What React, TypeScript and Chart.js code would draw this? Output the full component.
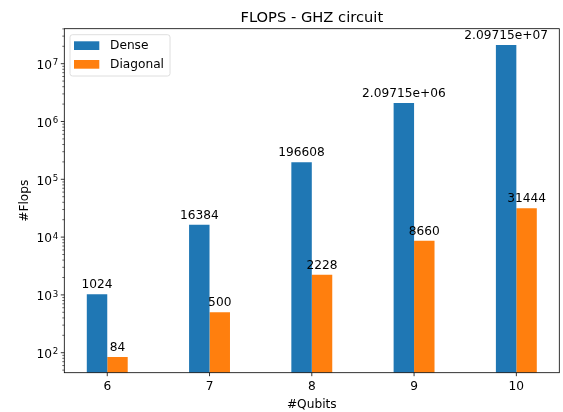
import React, { useEffect, useRef } from "react";
import { Chart, registerables } from "chart.js";

Chart.register(...registerables);

const qubits = [6, 7, 8, 9, 10];
const denseFlops = [1024, 16384, 196608, 2097152, 20971520];
const diagonalFlops = [84, 500, 2228, 8660, 31444];
const seriesNames = ["Dense", "Diagonal"];
const seriesColors = ["#1f77b4", "#ff7f0e"];
const titleText = "FLOPS - GHZ circuit";
const xTitle = "#Qubits";
const yTitle = "#Flops";

const FONT = "DejaVu Sans";

function fmtG(v: number): string {
  const e = Math.floor(Math.log10(Math.abs(v)));
  if (e >= 6 || e < -4) {
    const parts = v.toExponential(5).split("e");
    const m = parts[0].replace(/\.?0+$/, "");
    const n = parseInt(parts[1], 10);
    return m + "e" + (n < 0 ? "-" : "+") + String(Math.abs(n)).padStart(2, "0");
  }
  return String(parseFloat(v.toPrecision(6)));
}

function isPow10(v: number) {
  const l = Math.log10(v);
  return Math.abs(l - Math.round(l)) < 1e-9;
}

const decorPlugin = {
  id: "decor",
  beforeDraw(chart: any) {
    const ctx = chart.ctx;
    ctx.save();
    ctx.fillStyle = "#ffffff";
    ctx.fillRect(0, 0, chart.width, chart.height);
    ctx.restore();
  },
  afterDraw(chart: any) {
    const ctx = chart.ctx;
    const a = chart.chartArea;
    const xs = chart.scales.x;
    const ys = chart.scales.y;
    ctx.save();
    // bar labels
    ctx.fillStyle = "#000";
    ctx.font = `12.2px '${FONT}'`;
    ctx.textAlign = "center";
    ctx.textBaseline = "alphabetic";
    chart.data.datasets.forEach((ds: any, di: number) => {
      const meta = chart.getDatasetMeta(di);
      meta.data.forEach((el: any, i: number) => {
        ctx.fillText(fmtG(ds.data[i].y), el.x, el.y - 6);
      });
    });
    // spines
    ctx.strokeStyle = "#000";
    ctx.lineWidth = 0.8;
    ctx.strokeRect(a.left, a.top, a.right - a.left, a.bottom - a.top);
    // y ticks and labels (10 with superscript exponent)
    ys.ticks.forEach((t: any) => {
      const p = ys.getPixelForValue(t.value);
      const major = isPow10(t.value);
      ctx.lineWidth = major ? 0.8 : 0.6;
      ctx.beginPath();
      ctx.moveTo(a.left, p);
      ctx.lineTo(a.left - (major ? 3.5 : 2), p);
      ctx.stroke();
      if (major) {
        const e = String(Math.round(Math.log10(t.value)));
        const right = a.left - 6.2;
        ctx.textAlign = "right";
        ctx.textBaseline = "alphabetic";
        ctx.font = `8.6px '${FONT}'`;
        const ew = ctx.measureText(e).width;
        ctx.fillText(e, right, p + 1.6);
        ctx.font = `12.2px '${FONT}'`;
        ctx.fillText("10", right - ew - 0.6, p + 5.3);
      }
    });
    // x ticks
    ctx.lineWidth = 0.8;
    xs.ticks.forEach((t: any) => {
      const p = xs.getPixelForValue(t.value);
      ctx.beginPath();
      ctx.moveTo(p, a.bottom);
      ctx.lineTo(p, a.bottom + 3.5);
      ctx.stroke();
    });
    // title
    const cx = (a.left + a.right) / 2;
    ctx.font = `14.7px '${FONT}'`;
    ctx.textAlign = "center";
    ctx.textBaseline = "alphabetic";
    ctx.fillText(titleText, cx, 21.7);
    // axis titles
    ctx.font = `12.2px '${FONT}'`;
    ctx.fillText(xTitle, cx, 408);
    ctx.save();
    ctx.translate(27.9, (a.top + a.bottom) / 2);
    ctx.rotate(-Math.PI / 2);
    ctx.fillText(yTitle, 0, 0);
    ctx.restore();
    // legend
    const lx = a.left + 5.7;
    const ly = a.top + 6;
    ctx.beginPath();
    (ctx as any).roundRect(lx, ly, 100, 41.3, 2.5);
    ctx.fillStyle = "rgba(255,255,255,0.8)";
    ctx.fill();
    ctx.strokeStyle = "#d6d6d6";
    ctx.lineWidth = 0.8;
    ctx.stroke();
    ctx.textAlign = "left";
    ctx.textBaseline = "middle";
    seriesNames.forEach((name, i) => {
      const sy = ly + 6.6 + i * 18.7;
      ctx.fillStyle = seriesColors[i];
      ctx.fillRect(lx + 4, sy, 25.3, 8.7);
      ctx.fillStyle = "#000";
      ctx.fillText(name, lx + 40, sy + 4.6);
    });
    ctx.restore();
  },
};

export default function App() {
  const ref = useRef<HTMLCanvasElement | null>(null);
  useEffect(() => {
    if (!ref.current) return;
    const yTickValues: number[] = [];
    for (let e = 1; e <= 7; e++) {
      for (let s = 1; s <= 9; s++) {
        const v = s * Math.pow(10, e);
        if (v >= 45.1 && v <= 4.03e7) yTickValues.push(v);
      }
    }
    const chart = new Chart(ref.current, {
      type: "bar",
      data: {
        datasets: [
          {
            label: seriesNames[0],
            data: qubits.map((q, i) => ({ x: q, y: denseFlops[i] })),
            backgroundColor: seriesColors[0],
            borderWidth: 0,
          },
          {
            label: seriesNames[1],
            data: qubits.map((q, i) => ({ x: q, y: diagonalFlops[i] })),
            backgroundColor: seriesColors[1],
            borderWidth: 0,
          },
        ] as any,
      },
      options: {
        responsive: false,
        animation: false,
        devicePixelRatio: 1,
        datasets: { bar: { categoryPercentage: 0.4, barPercentage: 1.0 } },
        layout: { padding: { left: 0, top: 28.7, right: 3.7, bottom: 0 } },
        plugins: { legend: { display: false }, title: { display: false }, tooltip: { enabled: false } },
        scales: {
          x: {
            type: "linear",
            min: 5.58,
            max: 10.42,
            offset: false,
            grid: { display: false, drawTicks: false, offset: false },
            border: { display: false },
            ticks: {
              color: "#000",
              font: { family: FONT, size: 12.2 },
              padding: 7,
              autoSkip: false,
              maxRotation: 0,
              callback: (v: any) => String(v),
            },
            afterBuildTicks: (s: any) => {
              s.ticks = qubits.map((v) => ({ value: v }));
            },
            afterFit: (s: any) => {
              s.height = 39.3;
            },
          },
          y: {
            type: "logarithmic",
            min: 45.1,
            max: 4.03e7,
            grid: { display: false, drawTicks: false },
            border: { display: false },
            ticks: {
              color: "#000",
              font: { family: FONT, size: 12.2 },
              padding: 6,
              autoSkip: false,
              callback: () => "",
            },
            afterBuildTicks: (s: any) => {
              s.ticks = yTickValues.map((v) => ({ value: v }));
            },
            afterFit: (s: any) => {
              s.width = 64.3;
            },
          },
        } as any,
      },
      plugins: [decorPlugin],
    });
    return () => chart.destroy();
  }, []);
  return (
    <div style={{ position: "absolute", left: 0, top: 0, width: 563, height: 412, background: "#fff" }}>
      <canvas ref={ref} width={563} height={412} style={{ display: "block" }} />
    </div>
  );
}
